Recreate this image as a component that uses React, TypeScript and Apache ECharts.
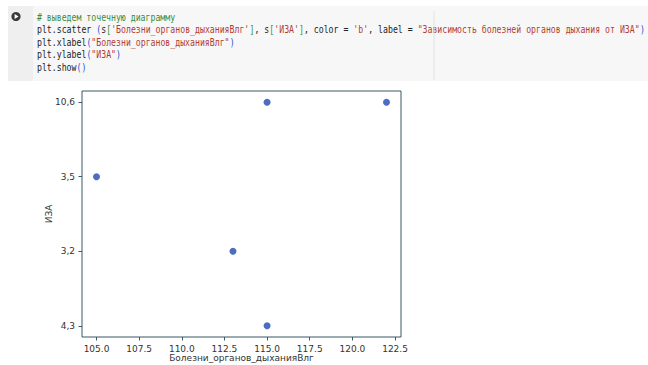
import React, { useEffect, useRef } from "react";
import * as echarts from "echarts";

// ---- data ----
const xValues = [115, 113, 105, 115, 122];
const yValues = ["4,3", "3,2", "3,5", "10,6", "10,6"];
const yCategories = ["4,3", "3,2", "3,5", "10,6"];
const xTicks = [105, 107.5, 110, 112.5, 115, 117.5, 120, 122.5];
const xAxisTitle = "Болезни_органов_дыханияВлг";
const yAxisTitle = "ИЗА";

// code cell lines: [style, text]
const codeLines: [string, string][][] = [
  [["cm", "# выведем точечную диаграмму"]],
  [
    ["tx", "plt.scatter "],
    ["p1", "("],
    ["tx", "s"],
    ["p2", "["],
    ["st", "'Болезни_органов_дыханияВлг'"],
    ["p2", "]"],
    ["tx", ", s"],
    ["p2", "["],
    ["st", "'ИЗА'"],
    ["p2", "]"],
    ["tx", ", color = "],
    ["st", "'b'"],
    ["tx", ", label = "],
    ["st", "\"Зависимость болезней органов дыхания от ИЗА\""],
    ["p1", ")"],
  ],
  [
    ["tx", "plt.xlabel"],
    ["p1", "("],
    ["st", "\"Болезни_органов_дыханияВлг\""],
    ["p1", ")"],
  ],
  [
    ["tx", "plt.ylabel"],
    ["p1", "("],
    ["st", "\"ИЗА\""],
    ["p1", ")"],
  ],
  [
    ["tx", "plt.show"],
    ["p1", "()"],
  ],
];

const codeFont = "DejaVu Sans Mono";
const codeColors: Record<string, string> = {
  cm: "#3a8c3d",
  tx: "#222222",
  st: "#b23c33",
  p1: "#2a4fd0",
  p2: "#3a8f3a",
};

export default function App() {
  const ref = useRef<HTMLDivElement>(null);

  useEffect(() => {
    document.body.style.margin = "0";
    if (!ref.current) return;
    const chart = echarts.init(ref.current, null, { renderer: "svg" });

    const rich: Record<string, any> = {};
    Object.keys(codeColors).forEach((k) => {
      rich[k] = { fill: codeColors[k], fontFamily: codeFont, fontSize: 10.5 };
    });

    const lineY = [17, 29.5, 42, 54.5, 67];
    const codeTexts = codeLines.map((segs, i) => ({
      type: "text",
      x: 0,
      y: lineY[i],
      style: {
        text: segs.map(([k, t]) => `{${k}|${t}}`).join(""),
        rich,
        fontFamily: codeFont,
        fontSize: 10.5,
        verticalAlign: "middle",
        align: "left",
      },
    }));

    const points = xValues.map((x, i) => [x, yCategories.indexOf(yValues[i])]);

    chart.setOption({
      animation: false,
      backgroundColor: "#ffffff",
      graphic: [
        { type: "rect", shape: { x: 8, y: 6, width: 640, height: 75 }, style: { fill: "#f7f7f7" }, z: 0 },
        { type: "rect", shape: { x: 8, y: 6, width: 25, height: 75 }, style: { fill: "#efefef" }, z: 0 },
        { type: "line", shape: { x1: 434, y1: 11, x2: 434, y2: 80 }, style: { stroke: "#e2e2e2", lineWidth: 1 }, z: 1 },
        { type: "circle", shape: { cx: 16, cy: 16.5, r: 4.6 }, style: { fill: "#3a3a3a" }, z: 2 },
        {
          type: "polygon",
          shape: { points: [[14.6, 14], [14.6, 19], [18.6, 16.5]] },
          style: { fill: "#ffffff" },
          z: 3,
        },
        {
          type: "group",
          x: 37,
          y: 0,
          scaleX: 0.782,
          scaleY: 1,
          children: codeTexts,
          z: 3,
        },
      ],
      grid: {
        left: 82,
        top: 91,
        width: 319,
        height: 246,
        show: true,
        borderColor: "#3b5966",
        borderWidth: 1,
        backgroundColor: "transparent",
        containLabel: false,
        outerBoundsMode: "none",
      },
      xAxis: {
        type: "value",
        min: 104.15,
        max: 122.85,
        name: xAxisTitle,
        nameLocation: "middle",
        nameGap: 16,
        nameMoveOverlap: false,
        nameTextStyle: { fontFamily: "DejaVu Sans", fontSize: 9, color: "#333" },
        axisLine: { show: false, onZero: false },
        splitLine: { show: false },
        axisTick: {
          show: true,
          length: 3.5,
          customValues: xTicks,
          lineStyle: { color: "#3b5966" },
        },
        axisLabel: {
          customValues: xTicks,
          margin: 7,
          fontFamily: "DejaVu Sans",
          fontSize: 9,
          color: "#333",
          formatter: (v: number) => v.toFixed(1),
        },
      },
      yAxis: {
        type: "value",
        min: -0.15,
        max: 3.15,
        name: yAxisTitle,
        nameLocation: "middle",
        nameRotate: 90,
        nameGap: 29,
        nameMoveOverlap: false,
        nameTextStyle: { fontFamily: "DejaVu Sans", fontSize: 9, color: "#333" },
        axisLine: { show: false, onZero: false },
        splitLine: { show: false },
        axisTick: {
          show: true,
          length: 3.5,
          customValues: yCategories.map((_, i) => i),
          lineStyle: { color: "#3b5966" },
        },
        axisLabel: {
          customValues: yCategories.map((_, i) => i),
          margin: 7,
          fontFamily: "DejaVu Sans",
          fontSize: 9,
          color: "#333",
          formatter: (v: number) => yCategories[Math.round(v)] ?? "",
        },
      },
      series: [
        {
          type: "scatter",
          data: points,
          symbol: "circle",
          symbolSize: 7,
          itemStyle: { color: "#2249b3" },
        },
      ],
    });

    return () => chart.dispose();
  }, []);

  return <div ref={ref} style={{ width: 648, height: 365 }} />;
}
